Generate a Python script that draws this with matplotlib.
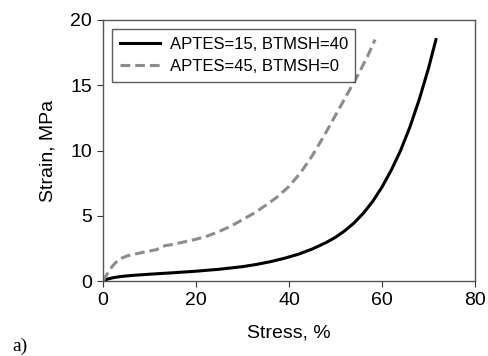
import matplotlib
matplotlib.use('Agg')
import matplotlib.pyplot as plt

# ---------- Data ----------
stress_a = [0, 0.5, 1, 2, 3, 4.5, 6, 8, 10, 15, 20, 25, 30, 33, 36, 39, 42, 45, 48, 50,
            52, 54, 56, 58, 60, 62, 64, 66, 68, 70, 71.6]
strain_a = [0, 0.08, 0.15, 0.24, 0.3, 0.37, 0.42, 0.47, 0.52, 0.63, 0.75, 0.9, 1.1, 1.27, 1.48,
            1.74, 2.05, 2.45, 2.95, 3.35, 3.85, 4.45, 5.2, 6.1, 7.2, 8.5, 10.0, 11.8, 13.9, 16.3, 18.5]

stress_b = [0, 0.5, 1, 1.5, 2, 2.5, 3, 3.5, 4, 5, 6, 8, 10, 11.5, 12.5, 13.5, 15, 17.5, 20,
            22.5, 25, 27.5, 30, 32.5, 35, 37.5, 40, 42.5, 45, 47.5, 50, 52.5, 55, 57, 58.5]
strain_b = [0, 0.3, 0.6, 0.88, 1.12, 1.33, 1.5, 1.65, 1.75, 1.9, 2.0, 2.15, 2.3, 2.4, 2.6, 2.72,
            2.8, 3.0, 3.2, 3.45, 3.8, 4.2, 4.7, 5.2, 5.8, 6.45, 7.25, 8.3, 9.6, 11.1, 12.7, 14.3,
            15.9, 17.3, 18.5]

label_a = 'APTES=15, BTMSH=40'
label_b = 'APTES=45, BTMSH=0'

# ---------- Plotting ----------
plt.rcParams['font.family'] = ['Liberation Sans', 'DejaVu Sans']
fig = plt.figure(figsize=(4.89, 3.56), dpi=100)
ax = fig.add_axes([103/489, 1 - 281/356, (475-103)/489, (281-20)/356])

ax.plot(stress_a, strain_a, color='black', lw=2.2, label=label_a)
ax.plot(stress_b, strain_b, color='#8c8c8c', lw=2.2, ls=(0, (3.2, 1.6)), label=label_b)

ax.set_xlim(0, 80)
ax.set_ylim(0, 20)
ax.set_xticks([0, 20, 40, 60, 80])
ax.set_yticks([0, 5, 10, 15, 20])
ax.tick_params(direction='out', length=4, labelsize=14, colors='#333333', labelcolor='black', pad=4)
for s in ax.spines.values():
    s.set_color('#555555')
    s.set_linewidth(1.0)

ax.set_xlabel('Stress, %', fontsize=14, labelpad=11)
ax.set_ylabel('Strain, MPa', fontsize=14, labelpad=10)

leg = ax.legend(loc='upper left', fontsize=12, frameon=True, fancybox=False,
                edgecolor='#333333', handlelength=2.4, borderpad=0.45,
                labelspacing=0.45, borderaxespad=0.55, handletextpad=0.6)
leg.get_frame().set_linewidth(1.0)

fig.text(12/489, 1 - 346/356, 'a)', fontsize=14, family='Liberation Serif', va='center')

fig.savefig('out.png', dpi=100)
